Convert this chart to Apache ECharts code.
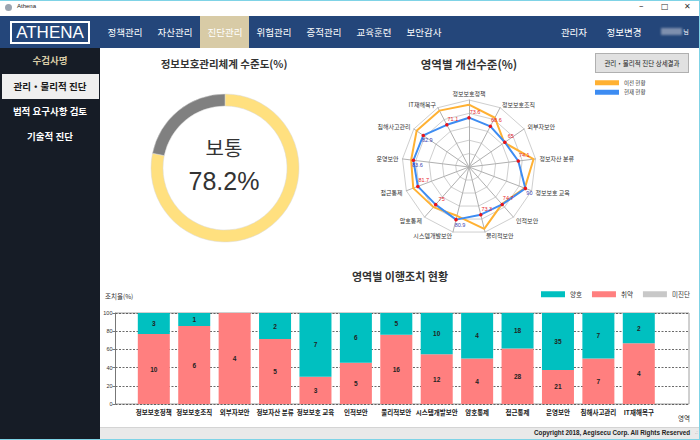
<!DOCTYPE html>
<html><head><meta charset="utf-8">
<script src="https://cdn.jsdelivr.net/npm/echarts@6/dist/echarts.min.js"></script>
<style>
html,body{margin:0;padding:0;width:700px;height:440px;overflow:hidden;background:#fff;font-family:"Liberation Sans","Noto Sans CJK KR",sans-serif;}
.a{position:absolute;white-space:nowrap;}
.nav{color:#fff;font-size:9.5px;top:16px;height:32px;line-height:32px;text-align:center;font-family:"Noto Sans CJK KR",sans-serif;}
.side{color:#fff;font-size:9.5px;font-weight:bold;left:0;width:100px;text-align:center;font-family:"Noto Sans CJK KR",sans-serif;}
</style></head>
<body>
<!-- window title bar -->
<div class="a" style="left:0;top:0;width:700px;height:16px;background:#fff;border-top:1px solid #7fd3e6;box-sizing:border-box;"></div>
<div class="a" style="left:5px;top:4px;width:7px;height:7px;border-radius:50%;background:#9aa4b0;"></div>
<div class="a" style="left:17px;top:3px;font-size:6px;color:#222;">Athena</div>
<div class="a" style="left:639px;top:1px;font-size:9px;color:#333;font-family:'DejaVu Sans';">–</div>
<div class="a" style="left:661px;top:2px;font-size:8px;color:#333;font-family:'DejaVu Sans';">□</div>
<div class="a" style="left:684px;top:2px;font-size:8px;color:#333;font-family:'DejaVu Sans';">✕</div>
<!-- nav bar -->
<div class="a" style="left:0;top:16px;width:700px;height:32px;background:#24467a;"></div>
<div class="a" style="left:10px;top:21px;width:76px;height:19px;border:2px solid #fff;color:#fff;font-size:17px;line-height:19px;text-align:center;font-family:'Liberation Sans';">ATHENA</div>
<div class="a" style="left:200px;top:16px;width:49px;height:32px;background:#d8cba6;"></div>
<div class="a nav" style="left:105px;width:40px;">정책관리</div>
<div class="a nav" style="left:155px;width:40px;">자산관리</div>
<div class="a nav" style="left:205px;width:40px;">진단관리</div>
<div class="a nav" style="left:254px;width:40px;">위험관리</div>
<div class="a nav" style="left:304px;width:40px;">증적관리</div>
<div class="a nav" style="left:354px;width:40px;">교육훈련</div>
<div class="a nav" style="left:404px;width:40px;">보안감사</div>
<div class="a nav" style="left:558px;width:32px;">관리자</div>
<div class="a nav" style="left:604px;width:40px;">정보변경</div>
<div class="a" style="left:661px;top:28px;width:21px;height:7px;background:#7e8fae;filter:blur(1px);"></div>
<div class="a nav" style="left:681px;width:10px;font-size:6px;">님</div>
<!-- sidebar -->
<div class="a" style="left:0;top:48px;width:100px;height:392px;background:#161c26;"></div>
<div class="a side" style="top:53px;color:#d8cba6;">수검사명</div>
<div class="a" style="left:2px;top:74px;width:97px;height:25px;background:#efefef;"></div>
<div class="a side" style="top:79px;color:#1a1a1a;">관리・물리적 진단</div>
<div class="a side" style="top:104px;">법적 요구사항 검토</div>
<div class="a side" style="top:129px;">기술적 진단</div>
<!-- main / footer -->
<div class="a" style="left:100px;top:48px;width:599px;height:380px;background:#fff;"></div>
<div class="a" style="left:100px;top:427px;width:599px;height:13px;background:#e9e9e9;border-top:1px solid #d4d4d4;box-sizing:border-box;"></div>
<div class="a" style="right:10px;top:429px;font-size:6.3px;font-weight:bold;color:#222;">Copyright 2018, Aegisecu Corp. All Rights Reserved</div>
<div class="a" style="right:2px;top:429px;font-size:6px;color:#999;">.:</div>
<div class="a" style="left:699px;top:0;width:1px;height:440px;background:#7fd3e6;"></div>
<div class="a" style="left:0;top:439px;width:700px;height:1px;background:#7fd3e6;"></div>

<div id="main" class="a" style="left:0;top:0;width:700px;height:440px;z-index:2;"></div>
<div class="a" style="left:595px;top:53px;width:92px;height:18px;background:#e1e1e1;border:1px solid #b0b0b0;z-index:3;font-size:6.5px;line-height:18px;text-align:center;color:#222;font-family:'Noto Sans CJK KR';">관리・물리적 진단 상세결과</div>

<script>
// ---- data ----
const levelPct = 78.2;
const levelText = '보통';

const areas = ['정보보호정책','정보보호조직','외부자보안','정보자산 분류','정보보호 교육','인적보안','물리적보안','시스템개발보안','암호통제','접근통제','운영보안','침해사고관리','IT재해복구'];
const prevLevel = [93, 83, 64, 97, 89, 74, 95, 75, 80, 89, 87, 95, 95];
const curLevel  = [73.6, 68.6, 65, 74.1, 90, 74.7, 73.3, 80.9, 75, 81.7, 83.6, 82.9, 71.1];
const curLabelTone = ['r','r','r','r','b','r','r','b','r','r','b','b','r'];

const weakCount  = [10, 6, 4, 5, 3, 5, 16, 12, 4, 28, 21, 7, 4];
const goodCount  = [3, 1, 0, 2, 7, 6, 5, 10, 4, 18, 35, 7, 2];
const undiagCount= [0, 0, 0, 0, 0, 0, 0, 0, 0, 0, 0, 0, 0];

// ---- derived ----
const totals = areas.map((_, i) => weakCount[i] + goodCount[i] + undiagCount[i]);
const pct = arr => arr.map((v, i) => totals[i] ? v / totals[i] * 100 : 0);
// ECharts radar runs counter-clockwise; reorder so areas read clockwise
const rOrder = [0].concat(areas.map((_, i) => areas.length - 1 - i).slice(0, areas.length - 1));
const rAreas = rOrder.map(i => areas[i]);
const rPrev = rOrder.map(i => prevLevel[i]);
const rCur = rOrder.map(i => curLevel[i]);

const C_ORANGE = '#ffb133', C_BLUE = '#3d8cf2';
const chart = echarts.init(document.getElementById('main'), null, {renderer: 'svg'});
chart.setOption({
  animation: false,
  graphic: [
    {type:'text', x:224, y:63, style:{text:'정보보호관리체계 수준도(%)', fontSize:10.5, fontWeight:'bold', fill:'#333', fontFamily:'Noto Sans CJK KR', textAlign:'center', textVerticalAlign:'middle'}},
    {type:'text', x:469, y:64, style:{text:'영역별 개선수준(%)', fontSize:11.5, fontWeight:'bold', fill:'#333', fontFamily:'Noto Sans CJK KR', textAlign:'center', textVerticalAlign:'middle'}},
    {type:'text', x:400, y:276, style:{text:'영역별 이행조치 현황', fontSize:11, fontWeight:'bold', fill:'#333', fontFamily:'Noto Sans CJK KR', textAlign:'center', textVerticalAlign:'middle'}},
    {type:'text', x:224, y:147, style:{text:levelText, fontSize:20, fill:'#333', fontFamily:'Noto Sans CJK KR', textAlign:'center', textVerticalAlign:'middle'}},
    {type:'text', x:224, y:181, style:{text:levelPct.toFixed(1) + '%', fontSize:25, fill:'#333', fontFamily:'Liberation Sans', textAlign:'center', textVerticalAlign:'middle'}},
    {type:'text', x:105, y:296, style:{text:'조치율(%)', fontSize:6.5, fill:'#333', fontFamily:'Noto Sans CJK KR', textAlign:'left', textVerticalAlign:'middle'}},
    {type:'text', x:684, y:418, style:{text:'영역', fontSize:6.5, fill:'#333', fontFamily:'Noto Sans CJK KR', textAlign:'center', textVerticalAlign:'middle'}}
  ],
  legend: [
    {data:[{name:'이전 현황', itemStyle:{color:C_ORANGE, borderWidth:0}}, {name:'현재 현황', itemStyle:{color:C_BLUE, borderWidth:0}}],
     orient:'vertical', left:595, top:80, itemWidth:24, itemHeight:5, itemGap:4, icon:'rect', padding:0,
     textStyle:{fontSize:5.5, color:'#333', fontFamily:'Noto Sans CJK KR'}, selectedMode:false},
    {data:['양호','취약','미진단'], left:541, top:291, itemWidth:24, itemHeight:6, itemGap:10, icon:'rect', padding:0,
     textStyle:{fontSize:6.5, color:'#333', fontFamily:'Noto Sans CJK KR'}, selectedMode:false}
  ],
  radar: {
    center:[469,167], radius:67, startAngle:90, splitNumber:5, shape:'polygon',
    indicator: rAreas.map(n => ({name:n, max:100})),
    nameGap:4,
    axisName:{color:'#333', fontSize:6, fontFamily:'Noto Sans CJK KR'},
    splitLine:{lineStyle:{color:'#cfcfcf'}},
    splitArea:{show:false},
    axisLine:{lineStyle:{color:'#b0b0b0'}}
  },
  grid: [
    {left:115.5, top:313, width:573.5, height:91, show:true, borderColor:'#a0a0a0', borderWidth:1, backgroundColor:'transparent'},
    {left:133.6, top:313, width:525.4, height:91}
  ],
  xAxis: [
    {gridIndex:0, type:'value', min:0, max:1, show:false},
    {gridIndex:1, type:'category', data:areas, axisLine:{show:false}, axisTick:{show:false},
     axisLabel:{interval:0, fontSize:6.5, fontWeight:'bold', color:'#222', margin:5, fontFamily:'Noto Sans CJK KR'}}
  ],
  yAxis: [
    {gridIndex:0, type:'value', min:0, max:100, interval:20,
     axisLine:{show:true, lineStyle:{color:'#777'}}, axisTick:{show:true, length:3, lineStyle:{color:'#777'}},
     axisLabel:{fontSize:5.5, color:'#333', margin:3},
     splitLine:{show:true, lineStyle:{color:'#444', type:[2,1.5], width:0.8}}},
    {gridIndex:1, type:'value', min:0, max:100, show:false}
  ],
  series: [
    {type:'pie', radius:[62,74], center:[225,168], startAngle:90, silent:true, label:{show:false}, labelLine:{show:false},
     itemStyle:{borderColor:'#d8d8d8', borderWidth:0.5},
     data:[{name:'수준', value:levelPct, itemStyle:{color:'#ffe07f'}}, {name:'잔여', value:100 - levelPct, itemStyle:{color:'#808080'}}]},
    {type:'radar', silent:true,
     data:[
       {name:'이전 현황', value:rPrev, symbol:'none', lineStyle:{color:C_ORANGE, width:2}, itemStyle:{color:C_ORANGE}},
       {name:'현재 현황', value:rCur, symbol:'circle', symbolSize:3.5, lineStyle:{color:C_BLUE, width:2}, itemStyle:{color:'#e8141b'},
        label:{show:true, position:'inside',
          formatter: p => { const i = curLevel.indexOf(p.value); const t = curLabelTone[i] || 'r'; return '{' + t + '|' + p.value + '}'; },
          rich:{
            r:{color:'#e8262c', fontSize:5.5, padding:[0,0,12,12]},
            b:{color:'#3b3fb0', fontSize:5.5, padding:[10,0,0,8]}
          }}}
     ]},
    {name:'취약', type:'bar', xAxisIndex:1, yAxisIndex:1, stack:'s', barWidth:32, data:pct(weakCount), itemStyle:{color:'#ff7f7f'},
     label:{show:true, position:'inside', fontSize:6.5, fontWeight:'bold', color:'#222', formatter: p => weakCount[p.dataIndex] || ''}},
    {name:'양호', type:'bar', xAxisIndex:1, yAxisIndex:1, stack:'s', barWidth:32, data:pct(goodCount), itemStyle:{color:'#00c0c0'},
     label:{show:true, position:'inside', fontSize:6.5, fontWeight:'bold', color:'#222', formatter: p => goodCount[p.dataIndex] || ''}},
    {name:'미진단', type:'bar', xAxisIndex:1, yAxisIndex:1, stack:'s', barWidth:32, data:pct(undiagCount), itemStyle:{color:'#c8c8c8'},
     label:{show:false}}
  ]
});
</script>
</body></html>
